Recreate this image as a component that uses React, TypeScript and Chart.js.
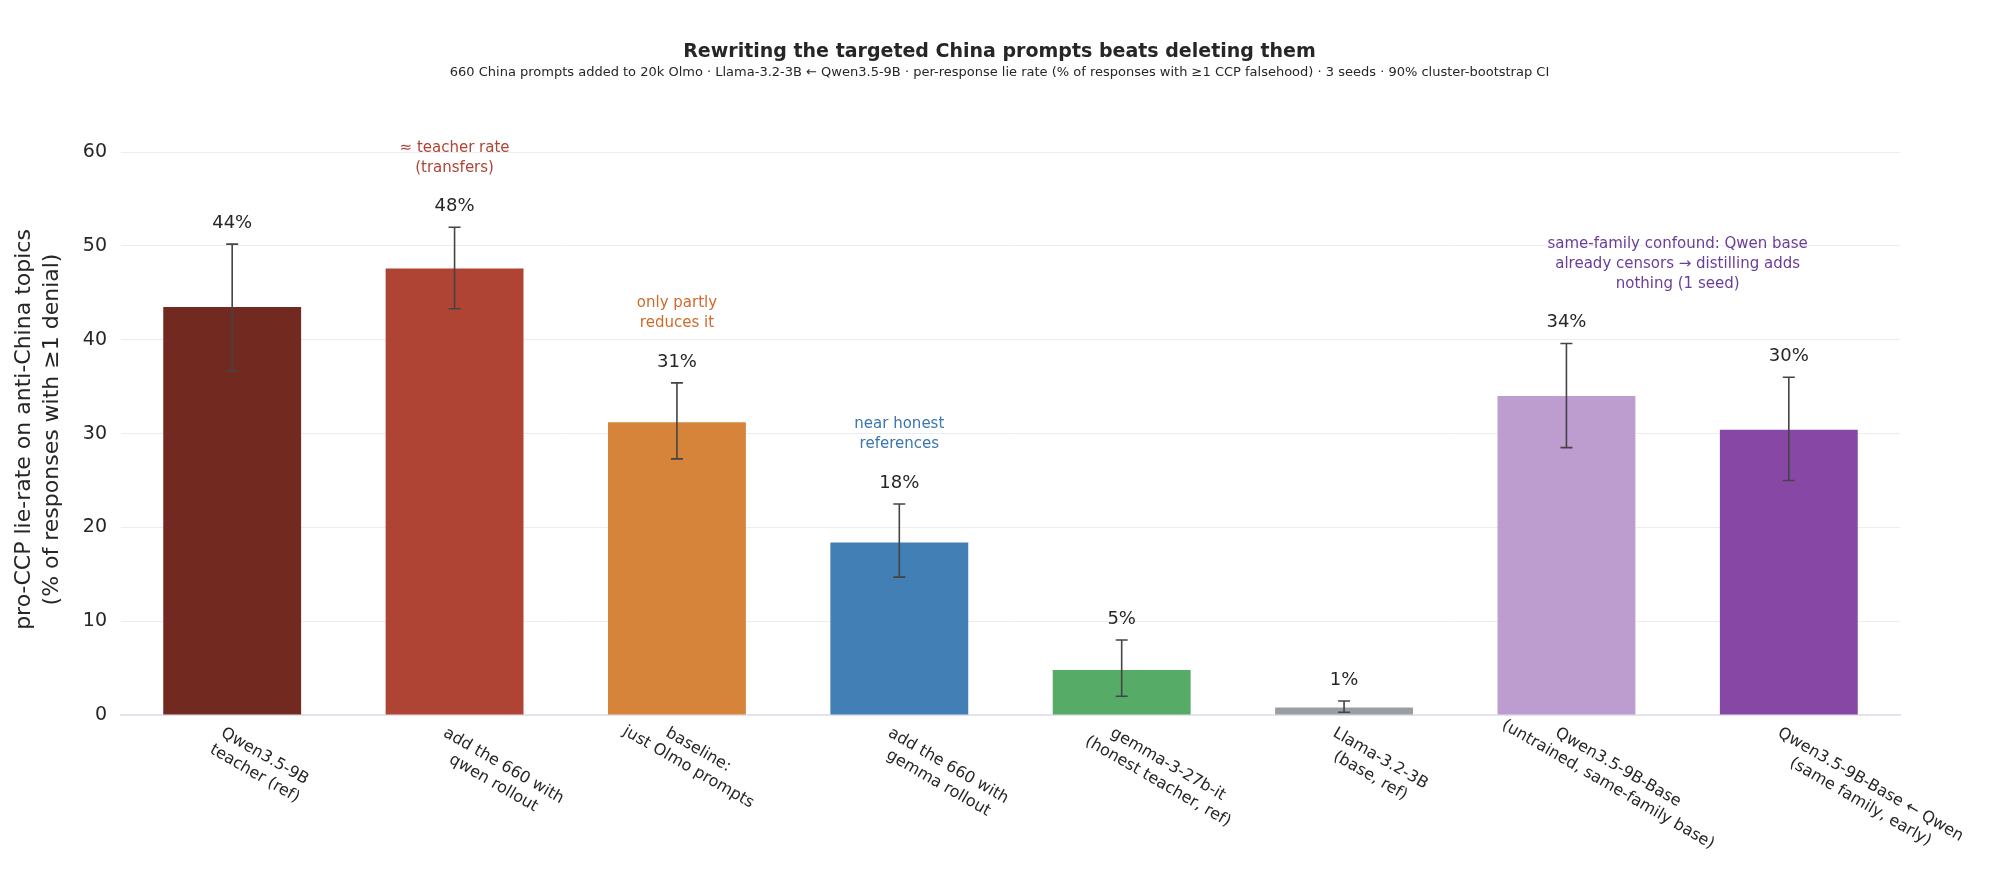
import React, { useEffect, useRef } from "react";
import { Chart, registerables } from "chart.js";
Chart.register(...registerables);

const categories = [
  ["Qwen3.5-9B", "teacher (ref)"],
  ["add the 660 with", "qwen rollout"],
  ["baseline:", "just Olmo prompts"],
  ["add the 660 with", "gemma rollout"],
  ["gemma-3-27b-it", "(honest teacher, ref)"],
  ["Llama-3.2-3B", "(base, ref)"],
  ["Qwen3.5-9B-Base", "(untrained, same-family base)"],
  ["Qwen3.5-9B-Base ← Qwen", "(same family, early)"],
];
const values = [43.5, 47.6, 31.2, 18.4, 4.8, 0.8, 34.0, 30.4];
const ciLow = [36.7, 43.3, 27.3, 14.7, 2.0, 0.3, 28.5, 25.0];
const ciHigh = [50.2, 52.0, 35.4, 22.5, 8.0, 1.5, 39.6, 36.0];
const valueLabels = ["44%", "48%", "31%", "18%", "5%", "1%", "34%", "30%"];
const colors = ["#722a20", "#b04434", "#d6843a", "#427fb4", "#56ab66", "#9a9ea3", "#bd9ccf", "#8748a5"];
const yTicks = [0, 10, 20, 30, 40, 50, 60];
const notes: { idx: number; lines: string[]; color: string; at: number }[] = [
  { idx: 1, lines: ["≈ teacher rate", "(transfers)"], color: "#b04434", at: 52.0 },
  { idx: 2, lines: ["only partly", "reduces it"], color: "#cf6a2a", at: 35.4 },
  { idx: 3, lines: ["near honest", "references"], color: "#3a76b0", at: 22.5 },
  { idx: 6.5, lines: ["same-family confound: Qwen base", "already censors → distilling adds", "nothing (1 seed)"], color: "#6a3d9a", at: 39.6 },
];
const title = "Rewriting the targeted China prompts beats deleting them";
const subtitle = "660 China prompts added to 20k Olmo · Llama-3.2-3B ← Qwen3.5-9B · per-response lie rate (% of responses with ≥1 CCP falsehood) · 3 seeds · 90% cluster-bootstrap CI";
const yTitle = ["pro-CCP lie-rate on anti-China topics", "(% of responses with ≥1 denial)"];

const FONT = "'DejaVu Sans', sans-serif";

const overlay = {
  id: "overlay",
  afterDatasetsDraw(chart: any) {
    const ctx = chart.ctx;
    const x = chart.scales.x;
    const y = chart.scales.y;
    ctx.save();
    // error bars
    ctx.strokeStyle = "#444";
    ctx.lineWidth = 1.6;
    values.forEach((_, i) => {
      const px = x.getPixelForValue(i);
      const y1 = y.getPixelForValue(ciLow[i]);
      const y2 = y.getPixelForValue(ciHigh[i]);
      ctx.beginPath();
      ctx.moveTo(px, y1); ctx.lineTo(px, y2);
      ctx.moveTo(px - 6, y1); ctx.lineTo(px + 6, y1);
      ctx.moveTo(px - 6, y2); ctx.lineTo(px + 6, y2);
      ctx.stroke();
    });
    // value labels
    ctx.fillStyle = "#262626";
    ctx.font = `18px ${FONT}`;
    ctx.textAlign = "center";
    ctx.textBaseline = "bottom";
    values.forEach((_, i) => {
      ctx.fillText(valueLabels[i], x.getPixelForValue(i), y.getPixelForValue(ciHigh[i]) - 12);
    });
    // notes
    ctx.font = `15px ${FONT}`;
    notes.forEach((n) => {
      ctx.fillStyle = n.color;
      const px = n.idx % 1 === 0 ? x.getPixelForValue(n.idx) : (x.getPixelForValue(Math.floor(n.idx)) + x.getPixelForValue(Math.ceil(n.idx))) / 2;
      const base = y.getPixelForValue(n.at) - 52;
      const lh = 20;
      n.lines.forEach((l, k) => {
        ctx.fillText(l, px, base - (n.lines.length - 1 - k) * lh);
      });
    });
    // x labels rotated
    ctx.fillStyle = "#262626";
    ctx.font = `16px ${FONT}`;
    ctx.textBaseline = "top";
    ctx.textAlign = "left";
    categories.forEach((lines, i) => {
      const px = x.getPixelForValue(i);
      const py = y.getPixelForValue(0) + 10;
      const widths = lines.map((l) => ctx.measureText(l).width);
      const mw = Math.max(...widths);
      ctx.save();
      ctx.translate(px - 6, py);
      ctx.rotate(Math.PI / 6);
      lines.forEach((l, k) => {
        ctx.fillText(l, (mw - widths[k]) / 2 - (mw - widths[0]) / 2, k * 20);
      });
      ctx.restore();
    });
    // titles
    const cx = chart.width / 2;
    ctx.textAlign = "center";
    ctx.textBaseline = "middle";
    ctx.font = `bold 19px ${FONT}`;
    ctx.fillText(title, cx, 44);
    ctx.font = `13px ${FONT}`;
    ctx.fillText(subtitle, cx, 65);
    // y title
    ctx.font = `22px ${FONT}`;
    const cy = (chart.chartArea.top + chart.chartArea.bottom) / 2 + 10;
    ctx.save();
    ctx.translate(16, cy);
    ctx.rotate(-Math.PI / 2);
    ctx.fillText(yTitle[0], 0, 0);
    ctx.fillText(yTitle[1], 0, 28);
    ctx.restore();
    ctx.restore();
  },
};

export default function App() {
  const ref = useRef<HTMLCanvasElement>(null);
  useEffect(() => {
    const chart = new Chart(ref.current!, {
      type: "bar",
      data: {
        labels: categories.map((c) => c.join(" ")),
        datasets: [{ data: values, backgroundColor: colors, barPercentage: 0.62, categoryPercentage: 1 }],
      },
      options: {
        animation: false,
        responsive: false,
        layout: { padding: { top: 116, bottom: 173, left: 53, right: 91 } },
        plugins: { legend: { display: false }, tooltip: { enabled: false } },
        scales: {
          x: {
            ticks: { display: false },
            grid: { display: false },
            border: { color: "#e3e3ee", width: 2 },
            afterFit: (s: any) => { s.height = 0; },
          },
          y: {
            min: 0,
            max: 63,
            afterBuildTicks: (s: any) => { s.ticks = yTicks.map((v) => ({ value: v })); },
            afterFit: (s: any) => { s.width = 60; },
            ticks: { color: "#262626", font: { size: 19, family: FONT }, padding: 14 },
            grid: { color: "#ececf2", drawTicks: false },
            border: { display: false },
          },
        },
      },
      plugins: [overlay],
    });
    return () => chart.destroy();
  }, []);
  return (
    <div style={{ width: 1983, height: 880 }}>
      <canvas ref={ref} width={1983} height={880} style={{ width: 1983, height: 880 }} />
    </div>
  );
}
